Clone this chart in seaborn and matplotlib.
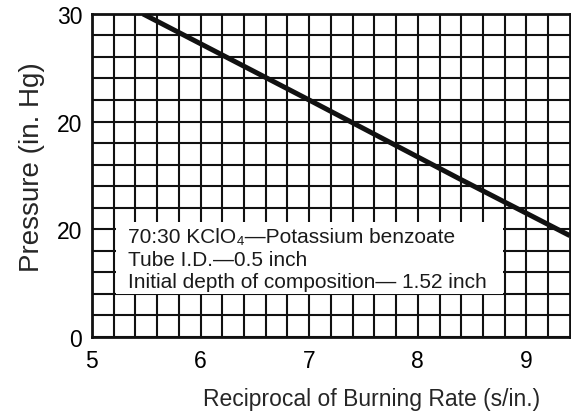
import numpy as np
import seaborn as sns
import matplotlib.pyplot as plt
from matplotlib.patches import Rectangle

# values
reciprocal_rate = [5.47, 7.0, 8.38, 9.4]
pressure = [30.0, 22.0, 14.7, 9.4]

x_ticks = [5, 6, 7, 8, 9]
y_ticks = [0, 10, 20, 30]
y_tick_labels = ["0", "20", "20", "30"]

note_lines = ["70:30 KClO\u2084\u2014Potassium benzoate",
              "Tube I.D.\u20140.5 inch",
              "Initial depth of composition\u2014 1.52 inch"]

sns.set_theme(style="white")
plt.rcParams['font.family'] = ['Liberation Sans', 'DejaVu Sans']

fig = plt.figure(figsize=(5.71, 4.14), dpi=100)
ax = fig.add_axes([0.161, 0.184, 0.837, 0.78])

sns.lineplot(x=reciprocal_rate, y=pressure, color="#111111", linewidth=3.6,
             solid_capstyle="butt", ax=ax, zorder=3)

ax.set_xlim(5, 9.4)
ax.set_ylim(0, 30)
ax.set_xticks(x_ticks)
ax.set_yticks(y_ticks)
ax.set_yticklabels(y_tick_labels)
ax.set_xticks(np.arange(5.2, 9.3, 0.2), minor=True)
ax.set_yticks(np.arange(2, 29, 2), minor=True)
ax.grid(which="both", color="#111111", linewidth=1.5)
ax.set_axisbelow(True)
ax.tick_params(which="both", length=0, labelsize=16.5, colors="black")
ax.tick_params(axis="x", pad=9)
ax.tick_params(axis="y", pad=7)

for side in ["left", "right", "top", "bottom"]:
    ax.spines[side].set_color("#111111")
    ax.spines[side].set_linewidth(2)

# white panel behind the note
ax.add_patch(Rectangle((5.22, 4.0), 3.56, 6.7, facecolor="white",
                       edgecolor="none", zorder=1))
for i, line in enumerate(note_lines):
    ax.text(5.33, 9.3 - i * 2.09, line, fontsize=15, va="center", ha="left",
            color="#1a1a1a", zorder=4)

ax.set_xlabel("Reciprocal of Burning Rate (s/in.)", fontsize=16.5)
ax.xaxis.set_label_coords(0.586, -0.155)
ax.set_ylabel("Pressure (in. Hg)", fontsize=20)
ax.yaxis.set_label_coords(-0.098, 0.53)

fig.savefig("out.png", dpi=100)
